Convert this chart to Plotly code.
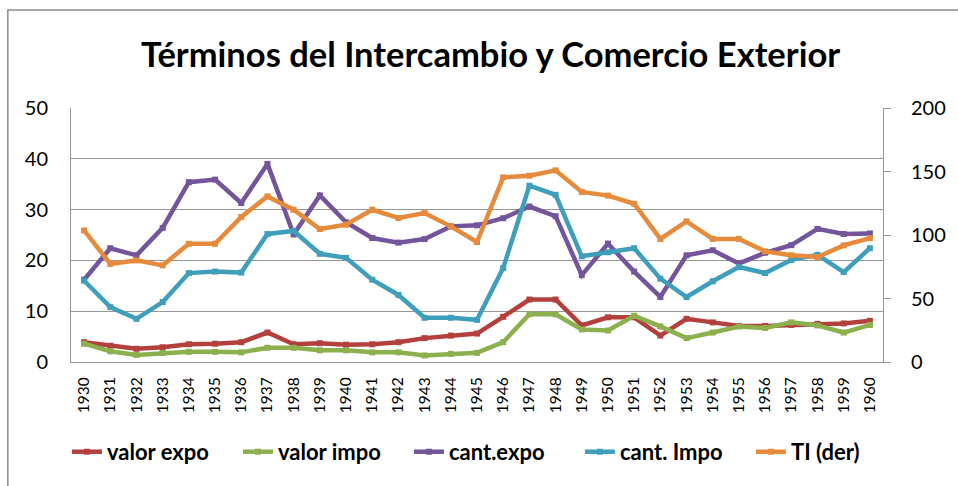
import plotly.graph_objects as go

years = [str(y) for y in range(1930, 1961)]

valor_expo = [3.9, 3.2, 2.6, 2.9, 3.5, 3.6, 3.9, 5.8, 3.5, 3.7, 3.4,
              3.5, 3.9, 4.7, 5.2, 5.6, 8.9, 12.3, 12.3, 7.2, 8.8,
              8.8, 5.2, 8.5, 7.8, 7.1, 7.1, 7.3, 7.5, 7.6, 8.1]
valor_impo = [3.6, 2.1, 1.4, 1.8, 2.0, 2.0, 1.9, 2.8, 2.8, 2.3, 2.3,
              1.9, 1.9, 1.3, 1.6, 1.8, 3.9, 9.4, 9.4, 6.4, 6.2,
              9.1, 7.0, 4.7, 5.8, 7.0, 6.7, 7.8, 7.2, 5.8, 7.3]
cant_expo = [16.2, 22.4, 21.0, 26.4, 35.4, 35.9, 31.3, 39.0, 25.1, 32.8, 27.5,
             24.4, 23.5, 24.2, 26.7, 26.9, 28.3, 30.6, 28.7, 17.1, 23.3,
             17.8, 12.8, 21.0, 22.0, 19.4, 21.5, 23.0, 26.2, 25.2, 25.3]
cant_impo = [16.0, 10.8, 8.5, 11.8, 17.5, 17.8, 17.6, 25.2, 25.8, 21.3, 20.5,
             16.2, 13.2, 8.7, 8.7, 8.3, 18.5, 34.7, 32.9, 20.8, 21.6,
             22.4, 16.4, 12.8, 15.9, 18.7, 17.5, 20.1, 21.1, 17.7, 22.4]
ti_der = [103.6, 77.2, 80.0, 76.1, 93.1, 93.1, 114.2, 130.4, 119.9, 104.7, 108.1,
          119.9, 113.4, 117.3, 106.8, 94.5, 145.4, 146.7, 150.9, 133.9, 131.0,
          124.6, 96.9, 110.7, 96.9, 96.9, 87.1, 84.0, 82.7, 91.8, 97.6]

left_ticks = [0, 10, 20, 30, 40, 50]
right_ticks = [0, 50, 100, 150, 200]

FONT = "Lato"
series = [
    ("valor expo", valor_expo, "#B3403D", "y"),
    ("valor impo", valor_impo, "#8DB04F", "y"),
    ("cant.expo", cant_expo, "#72559A", "y"),
    ("cant. Impo", cant_impo, "#3F9FBA", "y"),
    ("TI (der)", ti_der, "#E68A3C", "y2"),
]

fig = go.Figure()
for name, vals, color, ax in series:
    fig.add_trace(go.Scatter(
        x=years, y=vals, name="<b>" + name + "</b>", yaxis=ax,
        mode="lines+markers",
        line=dict(color=color, width=4.5),
        marker=dict(color=color, size=6, symbol="square"),
    ))

grid = "#969696"
fig.update_layout(
    width=958, height=486,
    margin=dict(l=71, r=64, t=108, b=124),
    paper_bgcolor="white", plot_bgcolor="white",
    font=dict(family=FONT, color="black"),
    title=dict(text="<b>Términos del Intercambio y Comercio Exterior</b>",
               font=dict(size=34.5, family=FONT, color="black"),
               x=0.512, xanchor="center", y=0.887, yanchor="middle",
               xref="container", yref="container"),
    xaxis=dict(type="category", range=[-0.5, 30.5], tickangle=-90,
               tickfont=dict(size=15.5, family=FONT),
               showgrid=False, showline=True, linecolor=grid, linewidth=1,
               ticks="", ticklabelstandoff=8),
    yaxis=dict(range=[0, 50], tickvals=left_ticks, showgrid=True,
               gridcolor=grid, gridwidth=1, showline=True, linecolor=grid,
               linewidth=1, ticks="", tickfont=dict(size=20, family=FONT),
               ticklabelstandoff=18, zeroline=False),
    yaxis2=dict(range=[0, 200], tickvals=right_ticks, overlaying="y",
                side="right", showgrid=False, showline=True, linecolor=grid,
                linewidth=1, ticks="outside", ticklen=7, tickcolor=grid,
                tickfont=dict(size=20, family=FONT), ticklabelstandoff=16,
                zeroline=False),
    legend=dict(orientation="h", x=-0.005, xanchor="left", y=-0.354,
                yanchor="middle", font=dict(size=22, family=FONT),
                itemwidth=30, entrywidth=126, traceorder="normal"),
    showlegend=True,
    shapes=[dict(type="rect", xref="paper", yref="paper",
                 x0=-0.0778, x1=1.1, y0=-0.6, y1=1.386,
                 line=dict(color="#8c8c8c", width=1.5), layer="below")],
)

fig.write_html("out.html", config={"displayModeBar": False},
               post_script="document.body.style.margin='0';document.body.style.overflow='hidden';")
